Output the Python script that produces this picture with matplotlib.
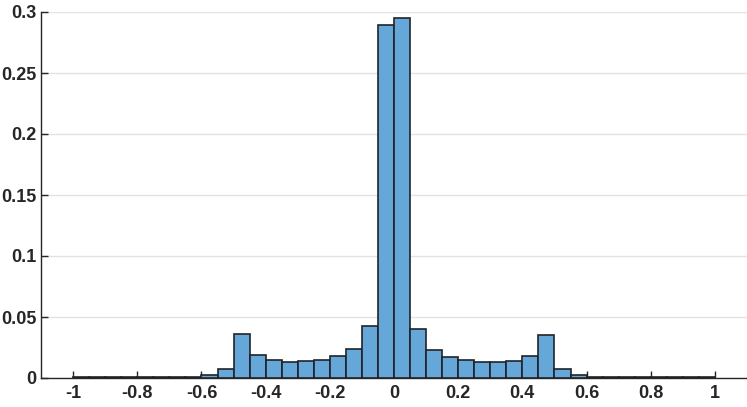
import matplotlib
matplotlib.use("Agg")
import matplotlib.pyplot as plt
import numpy as np

bin_edges = [round(-1 + 0.05 * i, 2) for i in range(41)]
bin_heights = [
    0.0005, 0.0005, 0.0005, 0.0006, 0.0006, 0.0007, 0.0009, 0.0012,   # -1 .. -0.6
    0.0021, 0.0074, 0.0363, 0.0186, 0.0145, 0.0134, 0.0137, 0.0150,   # -0.6 .. -0.2
    0.0178, 0.0240, 0.0426, 0.2890, 0.2950, 0.0399, 0.0232, 0.0172,   # -0.2 .. 0.2
    0.0145, 0.0134, 0.0131, 0.0142, 0.0183, 0.0350, 0.0071, 0.0025,   # 0.2 .. 0.6
    0.0012, 0.0009, 0.0007, 0.0006, 0.0006, 0.0005, 0.0005, 0.0005,   # 0.6 .. 1
]
x_ticks = [-1, -0.8, -0.6, -0.4, -0.2, 0, 0.2, 0.4, 0.6, 0.8, 1]
x_labels = ["-1", "-0.8", "-0.6", "-0.4", "-0.2", "0", "0.2", "0.4", "0.6", "0.8", "1"]
y_ticks = [0, 0.05, 0.1, 0.15, 0.2, 0.25, 0.3]
y_labels = ["0", "0.05", "0.1", "0.15", "0.2", "0.25", "0.3"]

plt.rcParams['font.family'] = ['Liberation Sans', 'DejaVu Sans']

fig = plt.figure(figsize=(7.47, 4.07), dpi=100)
ax = fig.add_axes([41 / 747, 29 / 407, 706 / 747, 366 / 407])

edges = np.array(bin_edges)
ax.bar(edges[:-1], bin_heights, width=np.diff(edges), align='edge',
       color='#64A7D8', edgecolor='#1f2328', linewidth=1.2, zorder=3)

ax.set_xlim(-1.1, 1.1)
ax.set_ylim(0, 0.3)
ax.set_xticks(x_ticks)
ax.set_xticklabels(x_labels)
ax.set_yticks(y_ticks)
ax.set_yticklabels(y_labels)

ax.yaxis.grid(True, color='#e2e2e2', linewidth=1.0, zorder=0)
ax.set_axisbelow(True)

for s in ['top', 'right']:
    ax.spines[s].set_visible(False)
for s in ['left', 'bottom']:
    ax.spines[s].set_color('#262626')
    ax.spines[s].set_linewidth(1.0)

ax.tick_params(direction='in', length=5, width=1.0, colors='#262626',
               labelsize=13, pad=5)
ax.tick_params(axis='y', pad=3)
for lab in ax.get_xticklabels() + ax.get_yticklabels():
    lab.set_fontweight('bold')
    lab.set_color('#262626')

fig.savefig('out.png', dpi=100)
